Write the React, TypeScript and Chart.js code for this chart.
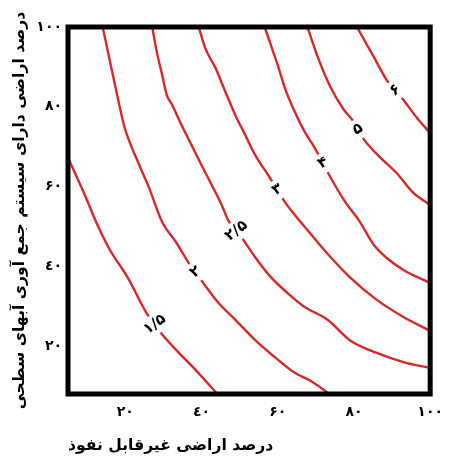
import React, { useEffect, useRef } from 'react';
import { Chart, registerables } from 'chart.js';

Chart.register(...registerables);

// Axis ticks and titles
const xTicks = [20, 40, 60, 80, 100];
const yTicks = [20, 40, 60, 80, 100];
const xTickLabels = ['۲۰', '٤۰', '۶۰', '۸۰', '۱۰۰'];
const yTickLabels = ['۲۰', '٤۰', '۶۰', '۸۰', '۱۰۰'];
const xTitle = 'درصد اراضی غیرقابل نفوذ';
const yTitle = 'درصد اراضی دارای سیستم جمع آوری آبهای سطحی';
const xMin = 5;
const xMax = 100;
const yMin = 8;
const yMax = 100;

// Contour values and their labels
const contourValues = [1.5, 2, 2.5, 3, 4, 5, 6];
const contourLabels = ['۱/۵', '۲', '۲/۵', '۳', '۴', '۵', '۶'];

// Contour lines (x: impervious %, y: collected %)
const c15X = [5, 9.4, 12.7, 16.0, 20.6, 25.6, 29.4, 34.1, 38.5, 44.2];
const c15Y = [67.2, 57.9, 50.4, 44.1, 37.3, 28.3, 23.3, 18.3, 14.0, 8];

const c2X = [14.1, 17.2, 19.8, 23.7, 26.3, 29.7, 33.3, 36.7, 40.5, 44.5, 48.9, 54.1, 59.2, 64.5, 68.6, 73.6];
const c2Y = [100, 86.0, 75.0, 65.4, 59.6, 51.1, 46.1, 40.8, 35.8, 30.8, 26.6, 21.5, 17.3, 13.3, 11.3, 8];

const c25X = [27.1, 28.3, 29.7, 30.9, 32.3, 34.8, 37.4, 40.0, 42.7, 45.3, 47.0, 51.0, 54.1, 58.2, 62.6, 67.1, 73.1, 78.9, 86.0, 93.0, 100];
const c25Y = [100, 93.7, 88.0, 83.0, 80.5, 75.4, 70.4, 65.4, 60.4, 55.4, 51.6, 46.6, 42.3, 37.3, 33.3, 29.8, 26.6, 21.5, 18.3, 16.0, 14.5];

const c3X = [39.3, 41.0, 43.7, 46.3, 48.9, 51.5, 54.1, 57.5, 61.9, 64.5, 67.8, 72.2, 78.9, 86.0, 93.0, 100];
const c3Y = [100, 94.7, 89.7, 83.7, 77.9, 72.9, 67.9, 62.9, 56.1, 52.9, 49.1, 44.1, 37.3, 31.6, 27.3, 23.8];

const c4X = [56.6, 58.2, 60.0, 61.9, 64.5, 67.1, 69.6, 73.8, 77.4, 81.6, 85.2, 88.6, 93.0, 100];
const c4Y = [100, 95.5, 90.5, 84.7, 78.7, 73.7, 69.9, 62.4, 56.6, 51.1, 45.4, 42.1, 39.1, 35.8];

const c5X = [67.8, 70.5, 73.8, 77.4, 79.6, 82.7, 86.8, 91.2, 95.6, 100];
const c5Y = [100, 92.5, 85.0, 79.2, 76.7, 71.7, 67.4, 63.4, 58.4, 55.4];

const c6X = [80.8, 85.2, 88.6, 93.0, 96.4, 100];
const c6Y = [100, 92.5, 86.7, 81.7, 77.4, 73.4];

// Label anchor positions (data coordinates)
const labelX = [28.3, 38.5, 49.9, 60.2, 72.0, 81.1, 90.7];
const labelY = [25.8, 38.6, 49.4, 59.4, 65.9, 74.4, 84.0];

const contoursX = [c15X, c2X, c25X, c3X, c4X, c5X, c6X];
const contoursY = [c15Y, c2Y, c25Y, c3Y, c4Y, c5Y, c6Y];

const LINE_COLOR = 'rgb(214, 42, 42)';
const FONT_FAMILY = "'DejaVu Sans', sans-serif";

const contourLabelPlugin = {
  id: 'contourLabels',
  afterDatasetsDraw(chart: any) {
    const { ctx, scales } = chart;
    const xs = scales.x;
    const ys = scales.y;
    ctx.save();
    ctx.font = `bold 15px ${FONT_FAMILY}`;
    ctx.textAlign = 'center';
    ctx.textBaseline = 'middle';
    contourLabels.forEach((txt, i) => {
      const px = xs.getPixelForValue(labelX[i]);
      const py = ys.getPixelForValue(labelY[i]);
      const pts = contoursX[i].map((v, k) => [xs.getPixelForValue(v), ys.getPixelForValue(contoursY[i][k])]);
      let best = { d: Infinity, x: px, y: py, a: Math.PI / 4 };
      for (let k = 0; k < pts.length - 1; k++) {
        const [ax, ay] = pts[k];
        const [bx, by] = pts[k + 1];
        const dx = bx - ax;
        const dy = by - ay;
        const len2 = dx * dx + dy * dy;
        let t = ((px - ax) * dx + (py - ay) * dy) / len2;
        t = Math.max(0, Math.min(1, t));
        const qx = ax + t * dx;
        const qy = ay + t * dy;
        const d = (qx - px) ** 2 + (qy - py) ** 2;
        if (d < best.d) best = { d, x: qx, y: qy, a: Math.atan2(dy, dx) };
      }
      const w = ctx.measureText(txt).width;
      ctx.save();
      ctx.translate(best.x, best.y);
      ctx.rotate(best.a - Math.PI / 2);
      ctx.fillStyle = '#ffffff';
      ctx.fillRect(-w / 2 - 3, -10, w + 6, 20);
      ctx.fillStyle = '#000000';
      ctx.fillText(txt, 0, 0);
      ctx.restore();
    });
    ctx.restore();
  },
};

const boxPlugin = {
  id: 'frameBox',
  afterDatasetsDraw(chart: any) {
    const { ctx, chartArea } = chart;
    ctx.save();
    ctx.strokeStyle = '#000000';
    ctx.lineWidth = 5;
    ctx.strokeRect(chartArea.left, chartArea.top, chartArea.right - chartArea.left, chartArea.bottom - chartArea.top);
    ctx.restore();
  },
};

function App() {
  const canvasRef = useRef<HTMLCanvasElement | null>(null);

  useEffect(() => {
    const canvas = canvasRef.current;
    if (!canvas) return;
    const datasets = contoursX.map((xsArr, i) => ({
      label: String(contourValues[i]),
      data: xsArr.map((x, k) => ({ x, y: contoursY[i][k] })),
      showLine: true,
      borderColor: LINE_COLOR,
      backgroundColor: LINE_COLOR,
      borderWidth: 2.4,
      pointRadius: 0,
      cubicInterpolationMode: 'monotone' as const,
      fill: false,
    }));
    const tickFont = { family: FONT_FAMILY, size: 14, weight: 'bold' as const };
    const titleFont = { family: FONT_FAMILY, size: 15.6, weight: 'bold' as const };
    const chart = new Chart(canvas, {
      type: 'scatter',
      data: { datasets },
      options: {
        animation: false,
        responsive: false,
        layout: { padding: { top: 27, right: 19, bottom: 0, left: 0 } },
        plugins: { legend: { display: false }, tooltip: { enabled: false } },
        scales: {
          x: {
            type: 'linear',
            min: xMin,
            max: xMax,
            grid: { display: false, drawTicks: false },
            border: { display: false },
            afterBuildTicks: (s: any) => {
              s.ticks = xTicks.map((v) => ({ value: v }));
            },
            afterFit: (s: any) => {
              s.height = 69;
            },
            ticks: {
              padding: 10,
              maxRotation: 0,
              autoSkip: false,
              color: '#000',
              font: tickFont,
              callback: (_v: any, i: number) => xTickLabels[i],
            },
            title: {
              display: true,
              text: xTitle,
              align: 'start',
              color: '#000',
              font: titleFont,
              padding: { top: 0, bottom: 8 },
            },
          },
          y: {
            type: 'linear',
            min: yMin,
            max: yMax,
            grid: { display: false, drawTicks: false },
            border: { display: false },
            afterBuildTicks: (s: any) => {
              s.ticks = yTicks.map((v) => ({ value: v }));
            },
            afterFit: (s: any) => {
              s.width = 68;
            },
            ticks: {
              padding: 6,
              autoSkip: false,
              color: '#000',
              font: tickFont,
              callback: (_v: any, i: number) => yTickLabels[i],
            },
            title: {
              display: true,
              text: yTitle,
              color: '#000',
              font: titleFont,
              padding: { top: 11, bottom: 0 },
            },
          },
        },
      },
      plugins: [contourLabelPlugin, boxPlugin],
    });
    return () => chart.destroy();
  }, []);

  return (
    <div style={{ position: 'absolute', left: 0, top: 0, width: 453, height: 463, background: '#fff' }}>
      <canvas ref={canvasRef} width={453} height={463} style={{ display: 'block' }} />
    </div>
  );
}

export default App;
